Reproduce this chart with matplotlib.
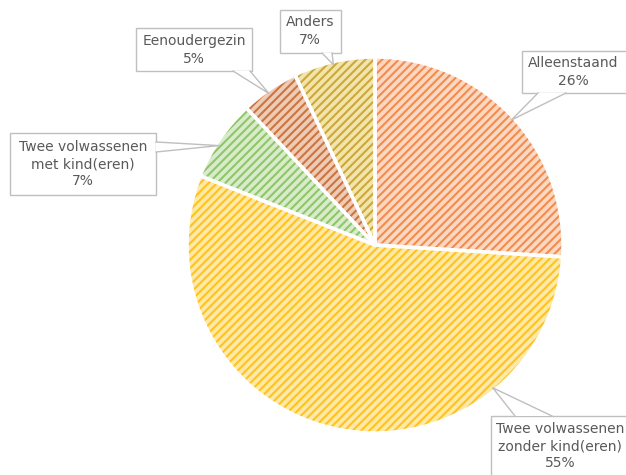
import matplotlib
matplotlib.use("Agg")
import matplotlib.pyplot as plt
from matplotlib.patches import Rectangle, Polygon
import numpy as np

categories = ["Alleenstaand", "Twee volwassenen\nzonder kind(eren)", "Twee volwassenen\nmet kind(eren)",
              "Eenoudergezin", "Anders"]
values = [26, 55, 7, 5, 7]
pct_labels = ["26%", "55%", "7%", "5%", "7%"]

hatch_colors = ["#F28C4E", "#FFC21F", "#8FC667", "#CC7440", "#CBA83A"]
fill_colors = ["#FCD8C2", "#FFE9A6", "#D8ECCB", "#EECBB4", "#F3E4AC"]

# layout (figure pixels, origin top-left)
box_rects = [(522, 51, 640, 93), (491, 416, 640, 490), (10, 133, 156, 195),
             (136, 28, 252, 71), (280, 10, 341, 53)]
text_centers = [(573, 72), (560, 446), (83, 164), (194, 50), (310, 31)]
pointer_base = [((538, 93), (566, 93)), ((515, 416), (552, 416)), ((156, 142), (156, 152)),
                ((233, 71), (250, 71)), ((322, 53), (332, 53))]
tip_angles = [47.5, 140.5, 302.5, 325.0, 347.0]  # degrees clockwise from top

plt.rcParams["hatch.linewidth"] = 1.5
W, H = 626, 475
fig = plt.figure(figsize=(W / 100, H / 100), dpi=100)
cx, cy, r = 375, 245, 188
ax = fig.add_axes([(cx - r) / W, (H - cy - r) / H, 2 * r / W, 2 * r / H])

wedges, _ = ax.pie(values, colors=fill_colors, startangle=90, counterclock=False,
                   wedgeprops=dict(linewidth=0, edgecolor="white"))
for w, hc in zip(wedges, hatch_colors):
    w.set_hatch("////")
    w.set_edgecolor(hc)
    w.set_linewidth(0)
ax.pie(values, colors=["none"] * len(values), startangle=90, counterclock=False,
       wedgeprops=dict(linewidth=2.5, edgecolor="white", fill=False))
ax.set_xlim(-1, 1)
ax.set_ylim(-1, 1)

# overlay axes in pixel coordinates for callouts
ov = fig.add_axes([0, 0, 1, 1], zorder=5)
ov.set_xlim(0, W)
ov.set_ylim(H, 0)
ov.axis("off")
ov.patch.set_alpha(0)

gray = "#BFBFBF"
for cat, pct, (x0, y0, x1, y1), (tx, ty), (b1, b2), ta in zip(
        categories, pct_labels, box_rects, text_centers, pointer_base, tip_angles):
    ov.add_patch(Rectangle((x0, y0), x1 - x0, y1 - y0, fc="white", ec=gray, lw=1,
                           clip_on=False, zorder=5))
    a = np.deg2rad(90 - ta)
    tip = (cx + (r - 3) * np.cos(a), cy - (r - 3) * np.sin(a))
    ov.add_patch(Polygon([b1, tip, b2], closed=True, fc="white", ec="none",
                         clip_on=False, zorder=6.5))
    ov.plot([b1[0], tip[0], b2[0]], [b1[1], tip[1], b2[1]], color=gray, lw=1,
            zorder=7, clip_on=False)
    ov.text(tx, ty, cat + "\n" + pct, ha="center", va="center", fontsize=10,
            color="#595959", linespacing=1.3, zorder=8, family=["DejaVu Sans"])

fig.savefig("out.png", dpi=100)
